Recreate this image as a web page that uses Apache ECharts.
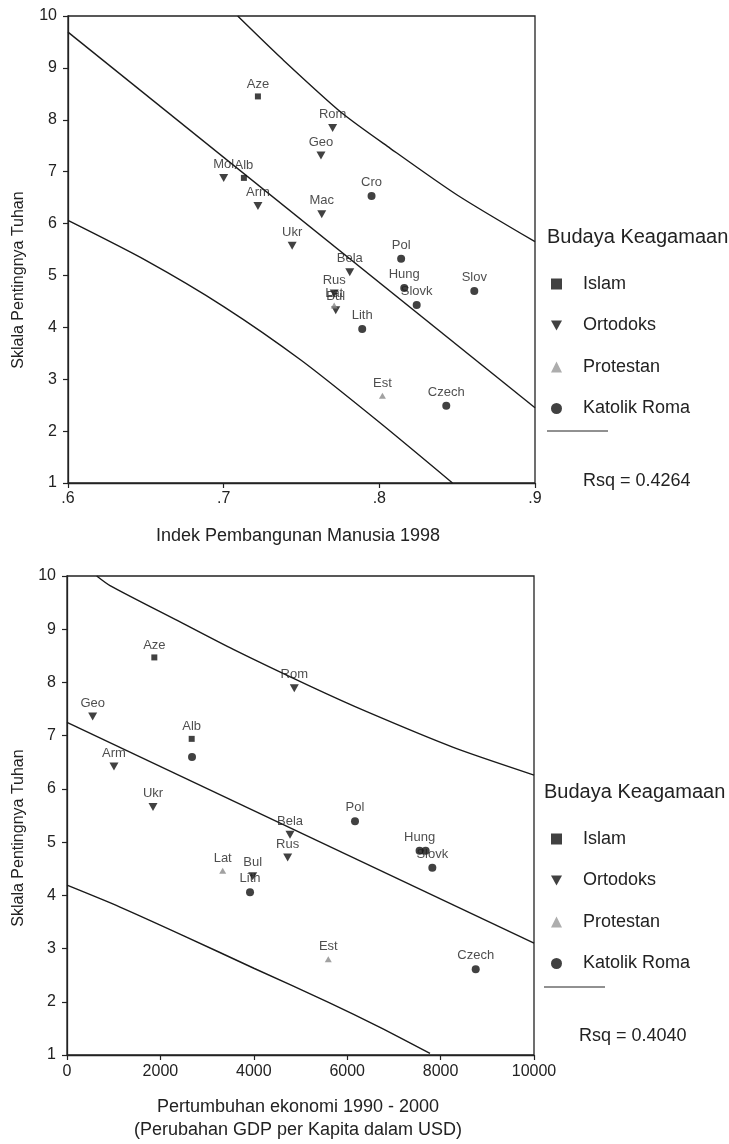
<!DOCTYPE html>
<html>
<head>
<meta charset="utf-8">
<script src="https://cdn.jsdelivr.net/npm/echarts@6/dist/echarts.min.js"></script>
<style>
html,body{margin:0;padding:0;background:#fff;}
#chart{width:729px;height:1144px;}
</style>
</head>
<body>
<div id="chart"></div>
<script>
// ---------- DATA ----------
// Top chart: Human Development Index 1998 vs importance of God
const countries1 = ['Aze','Rom','Geo','Mol','Alb','Cro','Arm','Mac','Ukr','Bela','Rus','Lat','Bul','Pol','Hung','Slovk','Slov','Lith','Est','Czech'];
const hdi1998    = [0.722,0.770,0.7625,0.700,0.713,0.795,0.722,0.763,0.744,0.781,0.771,0.771,0.772,0.814,0.816,0.824,0.861,0.789,0.802,0.843];
const god1       = [8.45,7.84,7.31,6.88,6.88,6.53,6.34,6.18,5.57,5.06,4.65,4.42,4.33,5.32,4.76,4.43,4.70,3.97,2.68,2.49];
const religion1  = ['Islam','Ortodoks','Ortodoks','Ortodoks','Islam','Katolik Roma','Ortodoks','Ortodoks','Ortodoks','Ortodoks','Ortodoks','Protestan','Ortodoks','Katolik Roma','Katolik Roma','Katolik Roma','Katolik Roma','Katolik Roma','Protestan','Katolik Roma'];

// Bottom chart: GDP per capita change 1990-2000 vs importance of God
const countries2 = ['Aze','Rom','Geo','Alb','Cro','Arm','Ukr','Bela','Rus','Lat','Bul','Lith','Pol','Hung','Slov','Slovk','Est','Czech'];
const gdpChange  = [1870,4867,550,2670,2677,1006,1842,4775,4725,3334,3976,3919,6167,7550,7680,7823,5595,8752];
const god2       = [8.47,7.89,7.36,6.94,6.60,6.42,5.66,5.14,4.71,4.46,4.36,4.06,5.39,4.84,4.84,4.52,2.80,2.61];
const religion2  = ['Islam','Ortodoks','Ortodoks','Islam','Katolik Roma','Ortodoks','Ortodoks','Ortodoks','Ortodoks','Protestan','Ortodoks','Katolik Roma','Katolik Roma','Katolik Roma','Katolik Roma','Katolik Roma','Protestan','Katolik Roma'];
const unlabeled2 = ['Cro','Slov'];

// Regression line and prediction-interval curves
const fit1   = [[0.6,9.69],[0.9,2.45]];
const upper1 = [[0.709,10],[0.738,9.16],[0.776,8.13],[0.807,7.45],[0.85,6.55],[0.9,5.65]];
const lower1 = [[0.6,6.06],[0.65,5.29],[0.70,4.40],[0.75,3.36],[0.80,2.17],[0.847,1.0]];
const fit2   = [[0,7.25],[10000,3.10]];
const upper2 = [[636,10],[921,9.82],[2349,9.17],[3561,8.62],[5203,7.93],[6418,7.45],[8272,6.78],[10000,6.26]];
const lower2 = [[0,4.19],[1135,3.78],[2500,3.24],[4000,2.63],[5600,1.99],[6702,1.52],[7773,1.03]];

const religions = ['Islam','Ortodoks','Protestan','Katolik Roma'];
const rsq1 = 'Rsq = 0.4264';
const rsq2 = 'Rsq = 0.4040';
const xTicks1 = ['.6','.7','.8','.9'];

// ---------- STYLE ----------
const FONT = '"Liberation Sans", Arial, sans-serif';
const DOWN = 'path://M0,0L10,0L5,9Z';
const symbolOf = {
  'Islam':        {symbol:'rect', size:6, color:'#111'},
  'Ortodoks':     {symbol:DOWN, size:[9,8], color:'#111'},
  'Protestan':    {symbol:'triangle', size:[7,6], color:'#8a8a8a'},
  'Katolik Roma': {symbol:'circle', size:8, color:'#111'}
};
const legendIcon = {'Islam':'rect','Ortodoks':DOWN,'Protestan':'triangle','Katolik Roma':'circle'};

function scatterSeries(idx, names, xs, ys, rels, hidden) {
  return religions.map(r => {
    const s = symbolOf[r];
    const data = [];
    names.forEach((n, i) => {
      if (rels[i] !== r) return;
      const d = {value:[xs[i], ys[i]], name:n};
      if (hidden && hidden.indexOf(n) >= 0) d.label = {show:false};
      data.push(d);
    });
    return {
      type:'scatter', name:r, xAxisIndex:idx, yAxisIndex:idx,
      symbol:s.symbol, symbolSize:s.size,
      itemStyle:{color:s.color},
      label:{show:true, position:'top', distance:3, formatter:p=>p.name,
             fontFamily:FONT, fontSize:13, color:'#222'},
      data:data, z:5
    };
  });
}
function lineSeries(idx, pts, smooth) {
  return {type:'line', xAxisIndex:idx, yAxisIndex:idx, data:pts, showSymbol:false,
          smooth:smooth, silent:true, lineStyle:{color:'#1a1a1a', width:1.4}, z:3};
}
function axisCommon() {
  return {
    type:'value',
    axisLine:{show:true, onZero:false, lineStyle:{color:'#222', width:1.3}},
    axisTick:{show:true, length:5, lineStyle:{color:'#222', width:1.2}},
    splitLine:{show:false},
    axisLabel:{fontFamily:FONT, fontSize:16, color:'#222'}
  };
}
function legendCfg(top) {
  return {
    orient:'vertical', left:551, top:top, padding:0,
    itemWidth:11, itemHeight:11, itemGap:23.5, selectedMode:false,
    data: religions.map(r => ({name:r, icon:legendIcon[r],
      itemStyle:{color: r === 'Protestan' ? '#999' : '#111'}})),
    textStyle:{fontFamily:FONT, fontSize:18, color:'#222', padding:[0,0,0,16]}
  };
}

const x1 = Object.assign(axisCommon(), {gridIndex:0, min:0.6, max:0.9, interval:0.1});
x1.axisLabel = Object.assign({}, x1.axisLabel, {margin:8,
  formatter: v => xTicks1[Math.round((v - 0.6) * 10)] || ''});
const x2 = Object.assign(axisCommon(), {gridIndex:1, min:0, max:10000, interval:2000});
x2.axisLabel = Object.assign({}, x2.axisLabel, {margin:9, formatter: v => String(Math.round(v))});
const y1 = Object.assign(axisCommon(), {gridIndex:0, min:1, max:10, interval:1});
y1.axisLabel = Object.assign({}, y1.axisLabel, {margin:11});
const y2 = Object.assign(axisCommon(), {gridIndex:1, min:1, max:10, interval:1});
y2.axisLabel = Object.assign({}, y2.axisLabel, {margin:11});

function txt(text, x, y, size, align, rot) {
  return {
    type:'text', x:x, y:y, rotation: rot || 0, silent:true,
    style:{text:text, fill:'#222', font: size + 'px ' + FONT,
           textAlign: align || 'left', textVerticalAlign:'middle'}
  };
}

const option = {
  animation:false,
  backgroundColor:'#ffffff',
  grid:[
    {left:68, top:16, width:467, height:467, show:true, borderColor:'#222', borderWidth:1.3, backgroundColor:'transparent'},
    {left:67, top:576, width:467, height:479, show:true, borderColor:'#222', borderWidth:1.3, backgroundColor:'transparent'}
  ],
  xAxis:[x1, x2],
  yAxis:[y1, y2],
  legend:[legendCfg(275), legendCfg(830)],
  graphic:[
    txt('Sklala Pentingnya Tuhan', 19, 280, 16, 'center', Math.PI/2),
    txt('Sklala Pentingnya Tuhan', 19, 838, 16, 'center', Math.PI/2),
    txt('Indek Pembangunan Manusia 1998', 298, 536, 18, 'center'),
    txt('Pertumbuhan ekonomi 1990 - 2000', 298, 1107, 18, 'center'),
    txt('(Perubahan GDP per Kapita dalam USD)', 298, 1130, 18, 'center'),
    txt('Budaya Keagamaan', 547, 237, 20),
    txt('Budaya Keagamaan', 544, 792, 20),
    {type:'line', silent:true, shape:{x1:547, y1:431, x2:608, y2:431}, style:{stroke:'#222', lineWidth:1}},
    {type:'line', silent:true, shape:{x1:544, y1:987, x2:605, y2:987}, style:{stroke:'#222', lineWidth:1}},
    txt(rsq1, 583, 481, 18),
    txt(rsq2, 579, 1036, 18)
  ],
  series:[].concat(
    [lineSeries(0, fit1, false), lineSeries(0, upper1, 0.25), lineSeries(0, lower1, 0.25)],
    [lineSeries(1, fit2, false), lineSeries(1, upper2, 0.25), lineSeries(1, lower2, 0.25)],
    scatterSeries(0, countries1, hdi1998, god1, religion1, null),
    scatterSeries(1, countries2, gdpChange, god2, religion2, unlabeled2)
  )
};

const chart = echarts.init(document.getElementById('chart'), null, {renderer:'canvas'});
chart.setOption(option);
</script>
</body>
</html>
